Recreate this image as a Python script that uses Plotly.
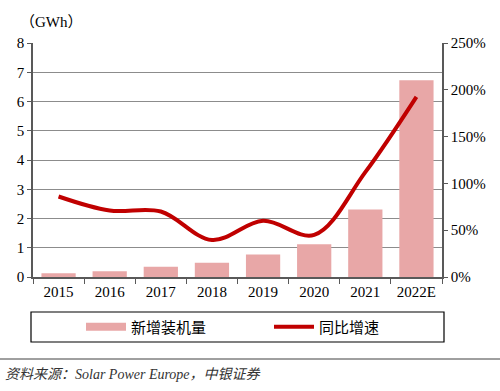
import plotly.graph_objects as go

categories = ["2015", "2016", "2017", "2018", "2019", "2020", "2021", "2022E"]
new_capacity = [0.13, 0.20, 0.35, 0.49, 0.77, 1.12, 2.31, 6.73]
yoy_growth = [0.86, 0.71, 0.70, 0.395, 0.60, 0.45, 1.12, 1.925]
bar_name = "新增装机量"
line_name = "同比增速"
unit_label = "（GWh）"
source_text = "资料来源：Solar Power Europe，中银证券"

FONT = "Liberation Serif"
CJK = "Noto Sans CJK SC"
BAR_COLOR = "#E8A7A7"
LINE_COLOR = "#C00000"
AXIS_COLOR = "#595959"
GRID_COLOR = "#8C8C8C"

fig = go.Figure()
fig.add_trace(go.Bar(x=categories, y=new_capacity, name=bar_name,
                     marker=dict(color=BAR_COLOR, line=dict(width=0)),
                     width=0.67, yaxis="y", showlegend=False))
# legend proxy giving the wide rectangular swatch of the bar series
fig.add_trace(go.Scatter(x=[None], y=[None], name=bar_name, mode="lines",
                         line=dict(color=BAR_COLOR, width=8), yaxis="y"))
fig.add_trace(go.Scatter(x=categories, y=yoy_growth, name=line_name,
                         mode="lines", line=dict(color=LINE_COLOR, width=4, shape="spline", smoothing=1.0),
                         yaxis="y2"))

L, R, T, B = 33, 58, 43, 114
W, H = 500, 391
pw = W - L - R
ph = H - T - B

def px_x(px):
    return (px - L) / pw

def px_y(py):
    return (H - B - py) / ph

fig.update_layout(
    width=W, height=H,
    margin=dict(l=L, r=R, t=T, b=B, autoexpand=False),
    paper_bgcolor="white", plot_bgcolor="white",
    font=dict(family=FONT, size=15, color="#000000"),
    showlegend=True,
    xaxis=dict(type="category", showline=True, linecolor=AXIS_COLOR, linewidth=1.5,
               ticks="outside", tickson="boundaries", ticklen=5, tickcolor=AXIS_COLOR,
               showgrid=False, tickfont=dict(family=FONT, size=15)),
    yaxis=dict(range=[0, 8], dtick=1, showline=True, linecolor=AXIS_COLOR, linewidth=1.5,
               ticks="outside", ticklen=4, tickcolor=AXIS_COLOR,
               showgrid=True, gridcolor=GRID_COLOR, gridwidth=1, zeroline=False,
               tickfont=dict(family=FONT, size=15)),
    yaxis2=dict(range=[0, 2.5], dtick=0.5, tickformat=".0%", overlaying="y", side="right",
                showline=True, linecolor=AXIS_COLOR, linewidth=1.5,
                ticks="outside", ticklen=4, tickcolor=AXIS_COLOR,
                showgrid=False, zeroline=False, tickfont=dict(family=FONT, size=15)),
    legend=dict(orientation="h", x=px_x(81), xanchor="left", y=px_y(327), yanchor="middle",
                bgcolor="rgba(0,0,0,0)", borderwidth=0, entrywidth=133, entrywidthmode="pixels",
                font=dict(family=CJK, size=15, color="#000000"), itemwidth=40),
    shapes=[
        dict(type="rect", xref="paper", yref="paper",
             x0=px_x(31), x1=px_x(444), y0=px_y(342), y1=px_y(312),
             line=dict(color="#000000", width=1.2), fillcolor="rgba(0,0,0,0)"),
        dict(type="line", xref="paper", yref="paper",
             x0=px_x(0), x1=px_x(500), y0=px_y(359), y1=px_y(359),
             line=dict(color="#404040", width=1)),
    ],
    annotations=[
        dict(text=unit_label, xref="paper", yref="paper", x=px_x(18), y=px_y(22),
             xanchor="left", yanchor="middle", showarrow=False,
             font=dict(family=FONT + ", " + CJK, size=15)),
        dict(text="<i>" + source_text + "</i>", xref="paper", yref="paper",
             x=px_x(3), y=px_y(374), xanchor="left", yanchor="middle", showarrow=False,
             font=dict(family=FONT + ", " + CJK, size=14, color="#333333")),
    ],
)

fig.write_html("out.html", config={"displayModeBar": False},
               post_script="document.body.style.margin='0';document.body.style.padding='0';")
